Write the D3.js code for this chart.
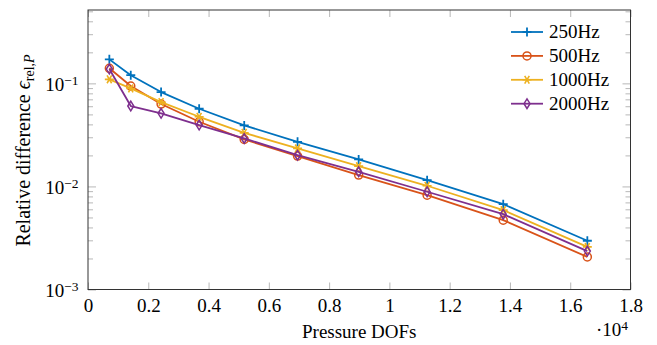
<!DOCTYPE html>
<html>
<head>
<meta charset="utf-8">
<script src="https://cdn.jsdelivr.net/npm/d3@7"></script>
<style>
  body { margin: 0; background: #fff; }
  text { font-family: "Liberation Serif", "DejaVu Serif", serif; fill: #000; }
</style>
</head>
<body>
<div id="chart"></div>
<script>
var dofs = [708, 1419, 2425, 3688, 5183, 6953, 8980, 11252, 13777, 16568];
var err250  = [0.171, 0.120, 0.0823, 0.0567, 0.0391, 0.0271, 0.0183, 0.0115, 0.00673, 0.00297];
var err500  = [0.140, 0.0942, 0.0630, 0.0424, 0.0286, 0.0197, 0.0129, 0.00823, 0.00471, 0.00207];
var err1000 = [0.1094, 0.0893, 0.0658, 0.0474, 0.0331, 0.0234, 0.01574, 0.01015, 0.00589, 0.00259];
var err2000 = [0.1377, 0.0603, 0.0512, 0.0394, 0.0292, 0.0201, 0.01387, 0.00888, 0.00538, 0.00236];
var seriesNames = ["250Hz", "500Hz", "1000Hz", "2000Hz"];
var xTicks = [0, 2000, 4000, 6000, 8000, 10000, 12000, 14000, 16000, 18000];
var yTicks = [1e-3, 1e-2, 1e-1];

var colors = ["#0072bd", "#d95319", "#edb120", "#7e2f8e"];
var markers = ["plus", "circle", "star", "diamond"];

var W = 657, H = 345;
var mLeft = 88, mRight = 630.5, mTop = 10, mBottom = 289.5;
var serif = "'Liberation Serif', 'DejaVu Serif', serif";
var fs = 19, fsSup = 13.5;

var svg = d3.select("#chart").append("svg")
    .attr("width", W).attr("height", H);

var x = d3.scaleLinear().domain([0, 18000]).range([mLeft, mRight]);
var y = d3.scaleLog().domain([1e-3, 0.515]).range([mBottom, mTop]);

// minor ticks for the log axis
var yMinor = [];
[1e-3, 1e-2, 1e-1].forEach(function(d) {
  for (var k = 2; k <= 9; k++) {
    if (d * k <= 0.515) yMinor.push(d * k);
  }
});

function tickStyle(g) {
  g.select(".domain").remove();
  g.selectAll(".tick line").attr("stroke", "#999").attr("stroke-width", 0.7);
}

// x axis, ticks inside at bottom and top
var gx = svg.append("g")
    .attr("transform", "translate(0," + mBottom + ")")
    .call(d3.axisBottom(x).tickValues(xTicks).tickSize(-7).tickPadding(9)
      .tickFormat(function(d) { return d === 0 ? "0" : d3.format("")(d / 10000); }))
    .call(tickStyle);
gx.attr("font-family", serif);
gx.selectAll(".tick text").attr("font-size", fs).attr("fill", "#000");

svg.append("g")
    .attr("transform", "translate(0," + mTop + ")")
    .call(d3.axisTop(x).tickValues(xTicks).tickSize(-7).tickFormat(""))
    .call(tickStyle);

// y axis, major and minor ticks inside left and right
var gy = svg.append("g")
    .attr("transform", "translate(" + mLeft + ",0)")
    .call(d3.axisLeft(y).tickValues(yTicks).tickSize(-8).tickFormat(""))
    .call(tickStyle);
svg.append("g")
    .attr("transform", "translate(" + mLeft + ",0)")
    .call(d3.axisLeft(y).tickValues(yMinor).tickSize(-5).tickFormat(""))
    .call(tickStyle);
svg.append("g")
    .attr("transform", "translate(" + mRight + ",0)")
    .call(d3.axisRight(y).tickValues(yTicks).tickSize(-8).tickFormat(""))
    .call(tickStyle);
svg.append("g")
    .attr("transform", "translate(" + mRight + ",0)")
    .call(d3.axisRight(y).tickValues(yMinor).tickSize(-5).tickFormat(""))
    .call(tickStyle);

// y tick labels 10^k
gy.attr("font-family", serif);
gy.selectAll(".tick").each(function(d) {
  var t = d3.select(this).append("text")
      .attr("x", -9.5).attr("dy", "0.36em")
      .attr("text-anchor", "end")
      .attr("font-size", fs);
  t.append("tspan").text("10");
  t.append("tspan").attr("dy", "-0.45em").attr("font-size", fsSup)
      .text("\u2212" + Math.round(-Math.log10(d)));
});

// frame
svg.append("rect")
    .attr("x", mLeft).attr("y", mTop)
    .attr("width", mRight - mLeft).attr("height", mBottom - mTop)
    .attr("fill", "none").attr("stroke", "#333").attr("stroke-width", 1);

// marker drawing
function drawMarker(g, type, color) {
  if (type === "plus") {
    g.append("path").attr("d", "M-4.5,0H4.5M0,-4.5V4.5")
      .attr("stroke", color).attr("stroke-width", 1.8).attr("fill", "none");
  } else if (type === "circle") {
    g.append("circle").attr("r", 4)
      .attr("stroke", color).attr("stroke-width", 1.5).attr("fill", "none");
  } else if (type === "star") {
    g.append("path").attr("d", "M-4.5,0H4.5M-2.3,-3.9L2.3,3.9M-2.3,3.9L2.3,-3.9")
      .attr("stroke", color).attr("stroke-width", 1.6).attr("fill", "none");
  } else {
    g.append("path").attr("d", "M0,-4.8L3,0L0,4.8L-3,0Z")
      .attr("stroke", color).attr("stroke-width", 1.5).attr("fill", "none");
  }
}

var allSeries = [err250, err500, err1000, err2000];
var line = d3.line()
    .x(function(d) { return x(d[0]); })
    .y(function(d) { return y(d[1]); });

allSeries.forEach(function(vals, i) {
  var pts = dofs.map(function(d, j) { return [d, vals[j]]; });
  svg.append("path")
      .attr("d", line(pts))
      .attr("fill", "none")
      .attr("stroke", colors[i])
      .attr("stroke-width", 1.8)
      .attr("stroke-linejoin", "round");
  pts.forEach(function(p) {
    var g = svg.append("g").attr("transform", "translate(" + x(p[0]) + "," + y(p[1]) + ")");
    drawMarker(g, markers[i], colors[i]);
  });
});

// legend
var legend = svg.append("g").attr("transform", "translate(511,32)");
seriesNames.forEach(function(name, i) {
  var row = legend.append("g").attr("transform", "translate(0," + (i * 23.9) + ")");
  row.append("line").attr("x1", 0).attr("x2", 32).attr("y1", 0).attr("y2", 0)
      .attr("stroke", colors[i]).attr("stroke-width", 1.8);
  drawMarker(row.append("g").attr("transform", "translate(16,0)"), markers[i], colors[i]);
  row.append("text").attr("x", 38).attr("y", 6)
      .attr("font-size", fs).text(name);
});

// axis labels
svg.append("text")
    .attr("x", (mLeft + mRight) / 2).attr("y", 338)
    .attr("text-anchor", "middle")
    .attr("font-size", fs)
    .text("Pressure DOFs");

var sc = svg.append("text")
    .attr("x", 596).attr("y", 336)
    .attr("font-size", fs);
sc.append("tspan").text("\u00b710");
sc.append("tspan").attr("dy", "-0.45em").attr("font-size", fsSup).text("4");

var yl = svg.append("text")
    .attr("transform", "translate(30,150.5) rotate(-90)")
    .attr("text-anchor", "middle")
    .attr("font-size", 20);
yl.append("tspan").text("Relative difference ");
yl.append("tspan").attr("font-style", "italic").text("\u03f5");
yl.append("tspan").attr("dy", "0.3em").attr("font-size", 14).text("rel,");
yl.append("tspan").attr("font-size", 14).attr("font-style", "italic").text("P");
</script>
</body>
</html>
